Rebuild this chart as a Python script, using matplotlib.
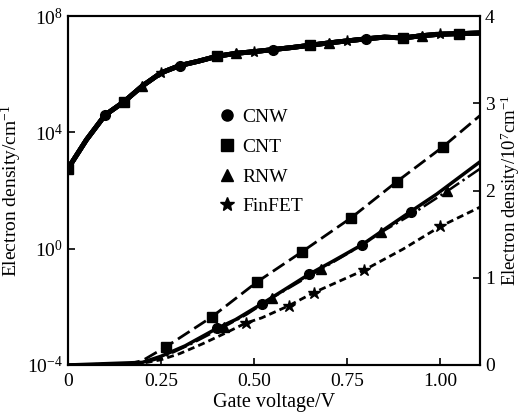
import matplotlib
matplotlib.use("Agg")
import matplotlib.pyplot as plt
import numpy as np

plt.rcParams['font.family'] = ['Liberation Serif', 'DejaVu Serif']
plt.rcParams['mathtext.fontset'] = 'custom'
plt.rcParams['mathtext.rm'] = 'Liberation Serif'
plt.rcParams['mathtext.it'] = 'Liberation Serif'

# upper curves (left, log axis) - all four devices overlap
top_x = [0, 0.05, 0.10, 0.15, 0.20, 0.25, 0.30, 0.35, 0.40, 0.45, 0.50, 0.55,
         0.60, 0.65, 0.70, 0.75, 0.80, 0.85, 0.90, 0.95, 1.00, 1.05, 1.10]
top_log = [2.75, 3.75, 4.60, 5.05, 5.60, 6.05, 6.30, 6.45, 6.62, 6.72, 6.78, 6.85,
           6.92, 7.00, 7.08, 7.15, 7.22, 7.28, 7.25, 7.33, 7.38, 7.40, 7.42]

# lower curves (right, linear axis, 10^7 cm^-1)
cnw_x = [0, 0.2, 0.25, 0.315, 0.40, 0.45, 0.52, 0.58, 0.647, 0.707, 0.79, 0.858, 0.92, 0.99, 1.106]
cnw_y = [0, 0.03, 0.10, 0.22, 0.42, 0.52, 0.70, 0.86, 1.04, 1.18, 1.38, 1.58, 1.76, 1.96, 2.33]
cnt_x = [0, 0.15, 0.20, 0.264, 0.386, 0.507, 0.629, 0.761, 0.882, 1.006, 1.106]
cnt_y = [0, 0, 0.05, 0.21, 0.55, 0.95, 1.30, 1.69, 2.10, 2.50, 2.86]
rnw_x = [0, 0.2, 0.25, 0.33, 0.42, 0.48, 0.548, 0.62, 0.68, 0.76, 0.84, 0.92, 1.017, 1.106]
rnw_y = [0, 0.02, 0.08, 0.24, 0.44, 0.58, 0.77, 0.95, 1.10, 1.30, 1.52, 1.72, 1.99, 2.25]
fin_x = [0, 0.2, 0.25, 0.30, 0.36, 0.42, 0.477, 0.52, 0.593, 0.66, 0.796, 0.9, 1.0, 1.106]
fin_y = [0, 0.02, 0.06, 0.13, 0.24, 0.36, 0.48, 0.54, 0.68, 0.83, 1.09, 1.33, 1.59, 1.81]

names = ['CNW', 'CNT', 'RNW', 'FinFET']
markers = ['o', 's', '^', '*']

fig = plt.figure(figsize=(5.26, 4.15), dpi=100)
ax = fig.add_axes([0.129, 0.1205, 0.7835, 0.8405])
ax2 = ax.twinx()

top_y = 10 ** np.array(top_log)
top_marks = [[2, 6, 11, 16], [3, 8, 13, 18, 21], [4, 9, 14, 19], [5, 10, 15, 20]]
for i in range(4):
    ax.plot(top_x, top_y, '-', color='k', lw=3.5, marker=markers[i],
            markevery=top_marks[i], ms=8 if markers[i] == '*' else 7)
ax.plot(top_x[:1], top_y[:1], 's', color='k', ms=7)

ax2.plot(cnw_x, cnw_y, '-', color='k', lw=2.5, marker='o', ms=7, markevery=list(range(4, 14, 2)))
ax2.plot(cnt_x, cnt_y, '--', color='k', lw=2, dashes=(5, 2), marker='s', ms=7, markevery=list(range(3, 10)))
ax2.plot(rnw_x, rnw_y, '-.', color='k', lw=1.8, marker='^', ms=7, markevery=list(range(4, 13, 2)))
ax2.plot(fin_x, fin_y, '--', color='k', lw=2, dashes=(2.5, 1.5), marker='*', ms=9, markevery=[6, 8, 9, 10, 12])

# legend
handles = [plt.Line2D([], [], ls='none', marker=m, color='k', ms=8 if m != '*' else 10) for m in markers]
ax.legend(handles, names, loc='upper left', bbox_to_anchor=(0.33, 0.785), frameon=False,
          fontsize=14, handlelength=0.6, handletextpad=0.5, labelspacing=0.62)

ax.set_yscale('log')
ax.set_xlim(0, 1.106)
ax.set_ylim(1e-4, 1e8)
ax.set_yticks([1e-4, 1e0, 1e4, 1e8])
ax.set_yticklabels(['$10^{-4}$', '$10^{0}$', '$10^{4}$', '$10^{8}$'])
ax.minorticks_off()
ax.set_xticks([0, 0.25, 0.5, 0.75, 1.0])
ax.set_xticklabels(['0', '0.25', '0.50', '0.75', '1.00'])
ax2.set_ylim(0, 4)
ax2.set_yticks([0, 1, 2, 3, 4])

for a in (ax, ax2):
    a.tick_params(direction='in', length=5, width=1.2, labelsize=14)
    for s in a.spines.values():
        s.set_linewidth(1.5)
ax.tick_params(axis='x', pad=6)

ax.set_xlabel('Gate voltage/V', fontsize=14.5, labelpad=2)
ax.set_ylabel('Electron density/cm$^{-1}$', fontsize=14, labelpad=2)
ax2.set_ylabel('Electron density/10$^{7}$cm$^{-1}$', fontsize=13.5, labelpad=3)

fig.savefig('out.png', dpi=100)
